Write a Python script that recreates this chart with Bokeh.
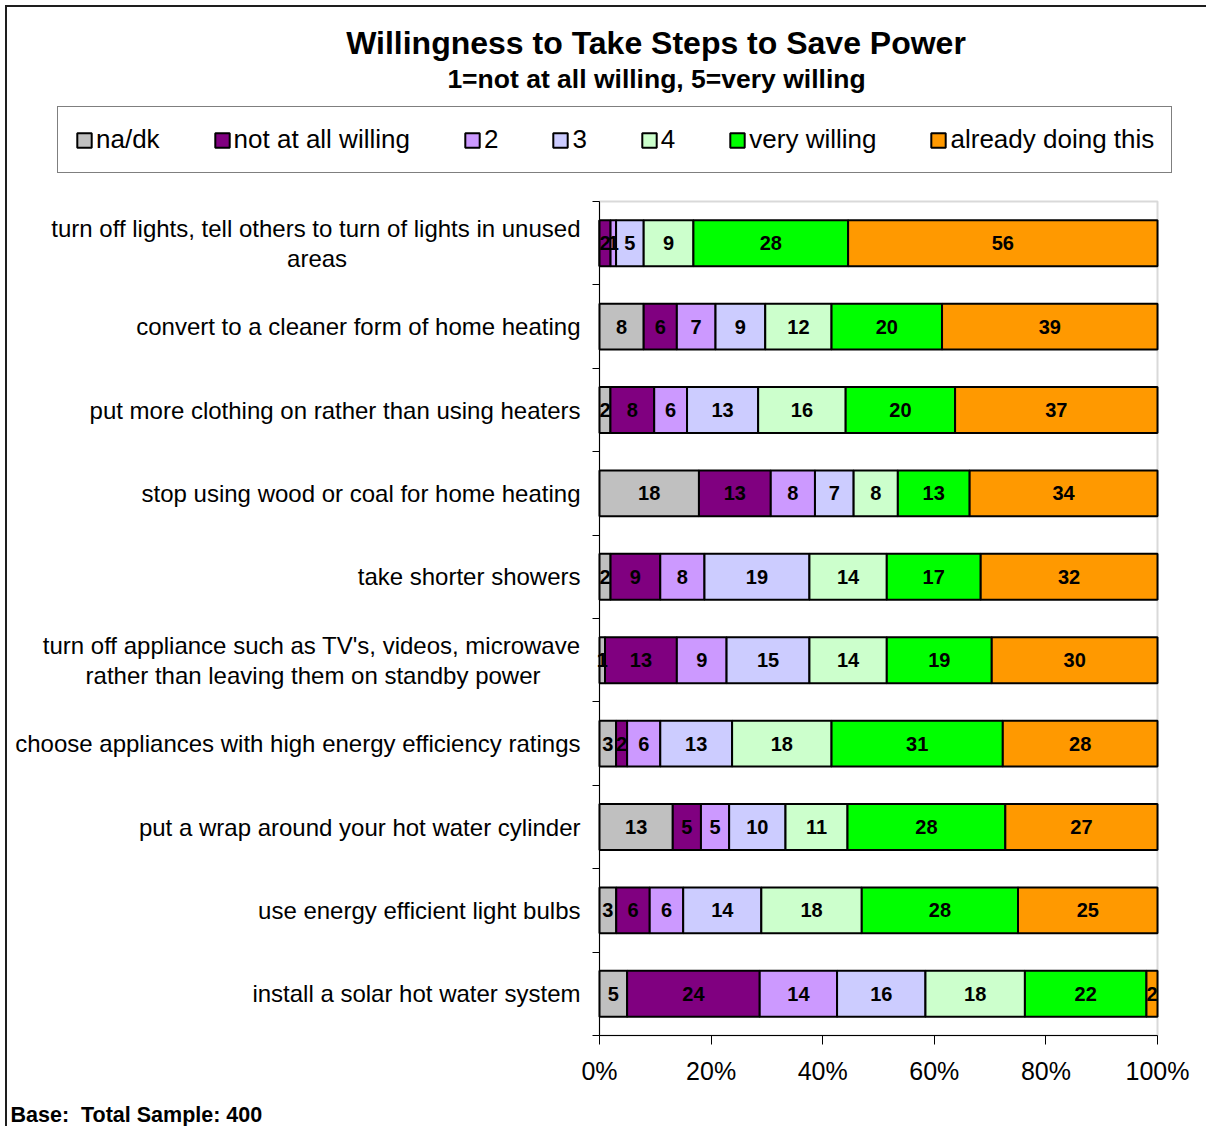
from bokeh.plotting import figure
from bokeh.models import (ColumnDataSource, Range1d, FixedTicker, Label,
                          Legend, LegendItem, BoxAnnotation)
from bokeh.core.properties import value
from bokeh.embed import file_html
from bokeh.resources import INLINE

# ---------------- data ----------------
categories = [
    "turn off lights, tell others to turn of lights in unused\nareas",
    "convert to a cleaner form of home heating",
    "put more clothing on rather than using heaters",
    "stop using wood or coal for home heating",
    "take shorter showers",
    "turn off appliance such as TV's, videos, microwave\nrather than leaving them on standby power",
    "choose appliances with high energy efficiency ratings",
    "put a wrap around your hot water cylinder",
    "use energy efficient light bulbs",
    "install a solar hot water system",
]
series_names = ["na/dk", "not at all willing", "2", "3", "4", "very willing", "already doing this"]
na_dk = [0, 8, 2, 18, 2, 1, 3, 13, 3, 5]
not_at_all_willing = [2, 6, 8, 13, 9, 13, 2, 5, 6, 24]
willing_2 = [1, 7, 6, 8, 8, 9, 6, 5, 6, 14]
willing_3 = [5, 9, 13, 7, 19, 15, 13, 10, 14, 16]
willing_4 = [9, 12, 16, 8, 14, 14, 18, 11, 18, 18]
very_willing = [28, 20, 20, 13, 17, 19, 31, 28, 28, 22]
already_doing = [56, 39, 37, 34, 32, 30, 28, 27, 25, 2]
x_ticks = [0, 20, 40, 60, 80, 100]
x_tick_labels = ["0%", "20%", "40%", "60%", "80%", "100%"]
title_text = "Willingness to Take Steps to Save Power"
subtitle_text = "1=not at all willing, 5=very willing"
footer_text = "Base:\u00a0 Total Sample: 400"

series_values = [na_dk, not_at_all_willing, willing_2, willing_3, willing_4, very_willing, already_doing]

# ---------------- styles / layout ----------------
colors = ["#C0C0C0", "#800080", "#CC99FF", "#CCCCFF", "#CCFFCC", "#00FF00", "#FF9900"]
FONT = "Liberation Sans"
NBSP = "\u00a0"
second_line_pad = {0: 35, 5: 6}   # centres the second line of a two-line label

W, H = 1199, 1119                 # canvas
PAD_L, PAD_R, PAD_T, PAD_B = 592, 49, 194, 91   # plot area inside the canvas


def tick_text(i, label):
    if "\n" in label and i in second_line_pad:
        first, second = label.split("\n")
        return first + "\n" + second + NBSP * second_line_pad[i]
    return label


n = len(categories)
totals = [sum(s[i] for s in series_values) for i in range(n)]
keys = [f"s{k}" for k in range(len(series_names))]

data = {"y": [i + 0.5 for i in range(n)]}
for key, vals in zip(keys, series_values):
    data[key] = [v / t * 100 for v, t in zip(vals, totals)]
src = ColumnDataSource(data)

# ranges chosen so that 0..100 / 0..n fill the plot area, the rest of the canvas
# holds titles, legend and labels
ux = 100 / (W - PAD_L - PAD_R)
uy = n / (H - PAD_T - PAD_B)
x_range = Range1d(-PAD_L * ux, 100 + PAD_R * ux)
y_range = Range1d(n + PAD_B * uy, -PAD_T * uy)

p = figure(width=W, height=H, x_range=x_range, y_range=y_range,
           title=None, output_backend="svg", toolbar_location=None,
           min_border=0, min_border_left=0, min_border_right=0,
           min_border_top=0, min_border_bottom=0)
p.margin = (7, 0, 0, 7)
p.styles = {"outline": "2px solid #1e1e1e"}
p.outline_line_color = None
p.xgrid.visible = False
p.ygrid.visible = False

# plot-area border (grey), under the bars
p.add_layout(BoxAnnotation(left=0, right=100, top=0, bottom=n, fill_alpha=0,
                           line_color="#808080", line_width=2, level="underlay"))

renderers = p.hbar_stack(keys, y="y", height=0.55, color=colors, line_color="black",
                         line_width=2, source=src)

# segment value labels
lx, ly, lt = [], [], []
for i in range(n):
    left = 0.0
    for key, vals in zip(keys, series_values):
        w = data[key][i]
        if vals[i] > 0:
            lx.append(left + w / 2)
            ly.append(data["y"][i])
            lt.append(str(vals[i]))
        left += w
p.text(x="x", y="y", text="t", source=ColumnDataSource(dict(x=lx, y=ly, t=lt)),
       text_align="center", text_baseline="middle", text_font=value(FONT),
       text_font_style="bold", text_font_size="20px", text_color="black")

# x axis drawn at the bottom of the plot area
xa = p.xaxis[0]
xa.fixed_location = n
xa.bounds = (0, 100)
xa.ticker = FixedTicker(ticks=x_ticks)
xa.major_label_overrides = {t: l for t, l in zip(x_ticks, x_tick_labels)}
xa.major_label_text_font = FONT
xa.major_label_text_font_size = "25px"
xa.major_label_text_color = "black"
xa.major_label_standoff = 12
xa.major_tick_out = 9
xa.major_tick_in = 0
xa.minor_tick_out = 0
xa.minor_tick_in = 0
xa.axis_line_color = "black"
xa.major_tick_line_color = "black"

# y axis at the left of the plot area: labels at centres, ticks at boundaries
ya = p.yaxis[0]
ya.fixed_location = 0
ya.bounds = (0, n)
centres = data["y"]
ya.ticker = FixedTicker(ticks=centres, minor_ticks=list(range(n + 1)))
ya.major_label_overrides = {c: tick_text(i, lab) for i, (c, lab) in enumerate(zip(centres, categories))}
ya.major_label_text_font = FONT
ya.major_label_text_font_size = "24px"
ya.major_label_text_color = "black"
ya.major_label_text_line_height = 1.1
ya.major_label_standoff = 12
ya.major_tick_out = 0
ya.major_tick_in = 0
ya.minor_tick_out = 7
ya.minor_tick_in = 0
ya.minor_tick_line_color = "black"
ya.axis_line_color = "black"

# titles and footer (offsets in px from the plot area's corners)
p.add_layout(Label(x=0, y=0, x_offset=56.5, y_offset=159, text=title_text,
                   text_align="center", text_baseline="middle", text_font=FONT,
                   text_font_size="32px", text_font_style="bold", text_color="black"))
p.add_layout(Label(x=0, y=0, x_offset=57, y_offset=123, text=subtitle_text,
                   text_align="center", text_baseline="middle", text_font=FONT,
                   text_font_size="26.5px", text_font_style="bold", text_color="black"))
p.add_layout(Label(x=0, y=n, x_offset=-589, y_offset=-79, text=footer_text,
                   text_align="left", text_baseline="middle", text_font=FONT,
                   text_font_size="21.5px", text_font_style="bold", text_color="black"))

legend = Legend(items=[LegendItem(label=s, renderers=[r]) for s, r in zip(series_names, renderers)],
                orientation="horizontal", location=(50, H - 166),
                glyph_width=18, glyph_height=18, label_standoff=3, spacing=53,
                padding=17, margin=0, label_width=0,
                label_text_font=FONT, label_text_font_size="26px", label_text_color="black",
                border_line_color="black", border_line_width=1,
                background_fill_color="white", background_fill_alpha=1)
p.add_layout(legend)

open("out.html", "w").write(file_html(p, INLINE))
